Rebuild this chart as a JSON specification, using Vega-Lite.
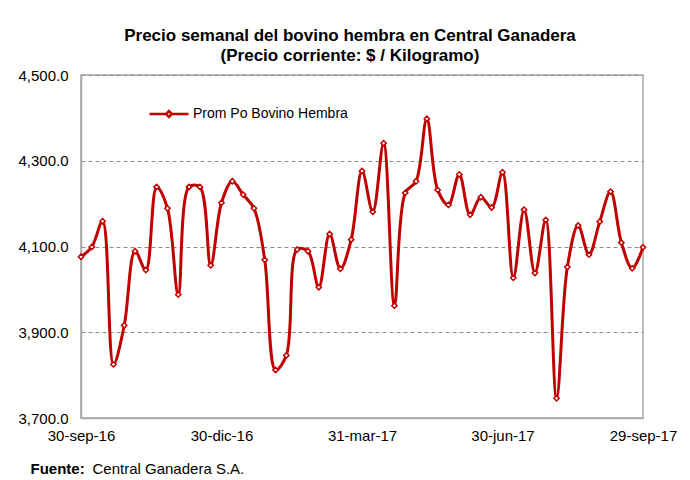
{
  "$schema": "https://vega.github.io/schema/vega-lite/v6.json",
  "autosize": "none",
  "width": 562,
  "height": 343,
  "padding": {"left": 81, "top": 75, "right": 47, "bottom": 62},
  "background": "white",
  "config": {
    "font": "Liberation Sans",
    "view": {"stroke": "#a6a6a6", "strokeWidth": 1.5}
  },
  "title": {
    "text": ["Precio semanal del bovino  hembra en Central Ganadera", "(Precio corriente: $ / Kilogramo)"],
    "fontSize": 17,
    "fontWeight": "bold",
    "color": "#000000",
    "anchor": "middle",
    "dx": -12,
    "offset": 3,
    "lineHeight": 20
  },
  "data": {
    "values": [
      {"fecha": "2016-09-30", "precio": 4076, "serie": "Prom Po Bovino Hembra"},
      {"fecha": "2016-10-07", "precio": 4099, "serie": "Prom Po Bovino Hembra"},
      {"fecha": "2016-10-14", "precio": 4159, "serie": "Prom Po Bovino Hembra"},
      {"fecha": "2016-10-21", "precio": 3825, "serie": "Prom Po Bovino Hembra"},
      {"fecha": "2016-10-28", "precio": 3916, "serie": "Prom Po Bovino Hembra"},
      {"fecha": "2016-11-04", "precio": 4089, "serie": "Prom Po Bovino Hembra"},
      {"fecha": "2016-11-11", "precio": 4045, "serie": "Prom Po Bovino Hembra"},
      {"fecha": "2016-11-18", "precio": 4239, "serie": "Prom Po Bovino Hembra"},
      {"fecha": "2016-11-25", "precio": 4189, "serie": "Prom Po Bovino Hembra"},
      {"fecha": "2016-12-02", "precio": 3988, "serie": "Prom Po Bovino Hembra"},
      {"fecha": "2016-12-09", "precio": 4239, "serie": "Prom Po Bovino Hembra"},
      {"fecha": "2016-12-16", "precio": 4239, "serie": "Prom Po Bovino Hembra"},
      {"fecha": "2016-12-23", "precio": 4056, "serie": "Prom Po Bovino Hembra"},
      {"fecha": "2016-12-30", "precio": 4202, "serie": "Prom Po Bovino Hembra"},
      {"fecha": "2017-01-06", "precio": 4252, "serie": "Prom Po Bovino Hembra"},
      {"fecha": "2017-01-13", "precio": 4221, "serie": "Prom Po Bovino Hembra"},
      {"fecha": "2017-01-20", "precio": 4189, "serie": "Prom Po Bovino Hembra"},
      {"fecha": "2017-01-27", "precio": 4069, "serie": "Prom Po Bovino Hembra"},
      {"fecha": "2017-02-03", "precio": 3812, "serie": "Prom Po Bovino Hembra"},
      {"fecha": "2017-02-10", "precio": 3846, "serie": "Prom Po Bovino Hembra"},
      {"fecha": "2017-02-17", "precio": 4093, "serie": "Prom Po Bovino Hembra"},
      {"fecha": "2017-02-24", "precio": 4089, "serie": "Prom Po Bovino Hembra"},
      {"fecha": "2017-03-03", "precio": 4005, "serie": "Prom Po Bovino Hembra"},
      {"fecha": "2017-03-10", "precio": 4129, "serie": "Prom Po Bovino Hembra"},
      {"fecha": "2017-03-17", "precio": 4048, "serie": "Prom Po Bovino Hembra"},
      {"fecha": "2017-03-24", "precio": 4116, "serie": "Prom Po Bovino Hembra"},
      {"fecha": "2017-03-31", "precio": 4276, "serie": "Prom Po Bovino Hembra"},
      {"fecha": "2017-04-07", "precio": 4181, "serie": "Prom Po Bovino Hembra"},
      {"fecha": "2017-04-14", "precio": 4341, "serie": "Prom Po Bovino Hembra"},
      {"fecha": "2017-04-21", "precio": 3962, "serie": "Prom Po Bovino Hembra"},
      {"fecha": "2017-04-28", "precio": 4225, "serie": "Prom Po Bovino Hembra"},
      {"fecha": "2017-05-05", "precio": 4252, "serie": "Prom Po Bovino Hembra"},
      {"fecha": "2017-05-12", "precio": 4398, "serie": "Prom Po Bovino Hembra"},
      {"fecha": "2017-05-19", "precio": 4232, "serie": "Prom Po Bovino Hembra"},
      {"fecha": "2017-05-26", "precio": 4197, "serie": "Prom Po Bovino Hembra"},
      {"fecha": "2017-06-02", "precio": 4268, "serie": "Prom Po Bovino Hembra"},
      {"fecha": "2017-06-09", "precio": 4174, "serie": "Prom Po Bovino Hembra"},
      {"fecha": "2017-06-16", "precio": 4215, "serie": "Prom Po Bovino Hembra"},
      {"fecha": "2017-06-23", "precio": 4191, "serie": "Prom Po Bovino Hembra"},
      {"fecha": "2017-06-30", "precio": 4273, "serie": "Prom Po Bovino Hembra"},
      {"fecha": "2017-07-07", "precio": 4027, "serie": "Prom Po Bovino Hembra"},
      {"fecha": "2017-07-14", "precio": 4186, "serie": "Prom Po Bovino Hembra"},
      {"fecha": "2017-07-21", "precio": 4038, "serie": "Prom Po Bovino Hembra"},
      {"fecha": "2017-07-28", "precio": 4162, "serie": "Prom Po Bovino Hembra"},
      {"fecha": "2017-08-04", "precio": 3746, "serie": "Prom Po Bovino Hembra"},
      {"fecha": "2017-08-11", "precio": 4052, "serie": "Prom Po Bovino Hembra"},
      {"fecha": "2017-08-18", "precio": 4149, "serie": "Prom Po Bovino Hembra"},
      {"fecha": "2017-08-25", "precio": 4081, "serie": "Prom Po Bovino Hembra"},
      {"fecha": "2017-09-01", "precio": 4158, "serie": "Prom Po Bovino Hembra"},
      {"fecha": "2017-09-08", "precio": 4228, "serie": "Prom Po Bovino Hembra"},
      {"fecha": "2017-09-15", "precio": 4109, "serie": "Prom Po Bovino Hembra"},
      {"fecha": "2017-09-22", "precio": 4049, "serie": "Prom Po Bovino Hembra"},
      {"fecha": "2017-09-29", "precio": 4098, "serie": "Prom Po Bovino Hembra"}
    ]
  },
  "encoding": {
    "x": {
      "field": "fecha",
      "type": "temporal",
      "scale": {"type": "utc", "domain": [{"year": 2016, "month": 9, "date": 30, "utc": true}, {"year": 2017, "month": 9, "date": 29, "utc": true}], "nice": false},
      "axis": {
        "values": [
          {"year": 2016, "month": 9, "date": 30, "utc": true},
          {"year": 2016, "month": 12, "date": 30, "utc": true},
          {"year": 2017, "month": 3, "date": 31, "utc": true},
          {"year": 2017, "month": 6, "date": 30, "utc": true},
          {"year": 2017, "month": 9, "date": 29, "utc": true}
        ],
        "labelExpr": "utcFormat(datum.value, '%d') + '-' + ['ene','feb','mar','abr','may','jun','jul','ago','sep','oct','nov','dic'][utcmonth(datum.value)] + '-' + utcFormat(datum.value, '%y')",
        "labelFontSize": 15,
        "labelColor": "#000000",
        "labelPadding": 10,
        "labelFlush": false,
        "labelOverlap": false,
        "ticks": false,
        "grid": false,
        "domainColor": "#a6a6a6",
        "domainWidth": 1.5,
        "title": "Fuente:",
        "titleFontSize": 15,
        "titleFontWeight": "bold",
        "titleColor": "#000000",
        "titleAlign": "left",
        "titleAnchor": "start",
        "titleBaseline": "middle",
        "titleX": -51,
        "titleY": 50
      }
    },
    "y": {
      "field": "precio",
      "type": "quantitative",
      "scale": {"domain": [3700, 4500], "nice": false, "zero": false},
      "axis": {
        "values": [3700, 3900, 4100, 4300, 4500],
        "format": ",.1f",
        "labelFontSize": 15,
        "labelColor": "#000000",
        "labelPadding": 13,
        "ticks": false,
        "domainColor": "#a6a6a6",
        "domainWidth": 1.5,
        "gridColor": "#8c8c8c",
        "gridDash": [4, 3],
        "gridWidth": 1,
        "title": "Central Ganadera S.A.",
        "titleFontSize": 15,
        "titleFontWeight": "normal",
        "titleColor": "#000000",
        "titleAngle": 0,
        "titleAlign": "left",
        "titleBaseline": "middle",
        "titleX": 11,
        "titleY": 393
      }
    }
  },
  "layer": [
    {
      "mark": {"type": "line", "interpolate": "catmull-rom", "strokeWidth": 3},
      "encoding": {
        "color": {
          "field": "serie",
          "type": "nominal",
          "scale": {"range": ["#c00000"]},
          "legend": {
            "title": null,
            "orient": "none",
            "legendX": 67,
            "legendY": 18,
            "padding": 0,
            "labelFontSize": 14,
            "labelLimit": 400,
            "labelColor": "#000000",
            "labelOffset": 3,
            "symbolType": "M-1,0H-0.15M0.15,0H1M0,-0.15L0.15,0L0,0.15L-0.15,0Z",
            "symbolSize": 1521,
            "symbolStrokeWidth": 2.5,
            "symbolFillColor": "white",
            "symbolStrokeColor": "#c00000",
            "encode": {"symbols": {"update": {"fill": {"value": "white"}, "stroke": {"value": "#c00000"}}}}
          }
        }
      }
    },
    {
      "mark": {"type": "point", "shape": "diamond", "size": 28, "filled": true, "fill": "white", "stroke": "#c00000", "strokeWidth": 1.5, "opacity": 1}
    }
  ]
}
